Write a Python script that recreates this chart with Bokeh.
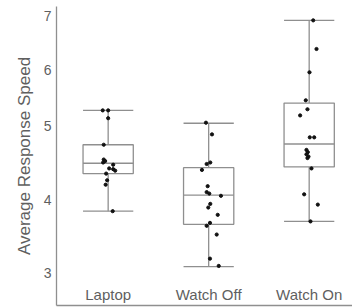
import numpy as np
from bokeh.plotting import figure
from bokeh.models import Range1d, FixedTicker
from bokeh.embed import file_html
from bokeh.resources import INLINE

# ---------------- data ----------------
categories = ["Laptop", "Watch Off", "Watch On"]

laptop_speed = [5.27, 5.27, 5.13, 4.74, 4.54, 4.52, 4.50, 4.47, 4.42, 4.41, 4.39, 4.35, 4.26, 4.20, 3.84]
laptop_jitter = [-0.054, 0.0, 0.0, -0.044, -0.044, -0.03, -0.05, 0.05, 0.01, 0.05, 0.07, -0.02, -0.01, -0.025, 0.045]

watch_off_speed = [5.05, 4.88, 4.50, 4.48, 4.40, 4.18, 4.10, 4.08, 4.05, 3.94, 3.89, 3.79, 3.68, 3.64, 3.52, 3.19, 3.09]
watch_off_jitter = [-0.027, 0.033, 0.016, -0.02, -0.067, -0.01, -0.02, 0.006, 0.122, 0.016, -0.004, 0.09, 0.013, -0.02, 0.08, 0.013, 0.10]

watch_on_speed = [6.91, 6.38, 5.95, 5.45, 5.29, 5.18, 4.84, 4.84, 4.67, 4.64, 4.61, 4.58, 4.56, 4.42, 4.07, 3.93, 3.70]
watch_on_jitter = [0.04, 0.073, 0.003, -0.034, -0.017, -0.09, 0.006, 0.05, -0.027, -0.014, -0.027, -0.007, -0.017, 0.023, -0.05, 0.086, 0.013]

box_low = [3.84, 3.08, 3.70]
box_q1 = [4.35, 3.66, 4.44]
box_median = [4.49, 4.06, 4.75]
box_q3 = [4.74, 4.43, 5.40]
box_high = [5.27, 5.04, 6.91]

y_tick_values = [3, 4, 5, 6, 7]

# The reference's value axis is not evenly spaced: display units of each tick
axis_tick_units = [0, 73, 147, 203, 257]


def warp(v):
    return np.interp(np.asarray(v, dtype=float), y_tick_values, axis_tick_units)


GRAY = "#8f8f8f"
TEXT = "#5f5f5f"
FONT = "Liberation Sans"
HALF = 0.25

p = figure(width=352, height=307, output_backend="svg", toolbar_location=None,
           x_range=Range1d(-0.514, 2.431), y_range=Range1d(-33, 266),
           min_border_left=56, min_border_right=0, min_border_top=6, min_border_bottom=2)
p.outline_line_color = None
p.grid.visible = False
p.background_fill_color = "white"
p.border_fill_color = "white"

xs = np.arange(len(categories))

# boxes
p.quad(left=xs - HALF, right=xs + HALF, bottom=warp(box_q1), top=warp(box_q3),
       fill_alpha=0, line_color=GRAY, line_width=1.3)
# medians
p.segment(x0=xs - HALF, x1=xs + HALF, y0=warp(box_median), y1=warp(box_median),
          line_color=GRAY, line_width=1.3)
# whiskers
p.segment(x0=xs, x1=xs, y0=warp(box_q3), y1=warp(box_high), line_color=GRAY, line_width=1.3)
p.segment(x0=xs, x1=xs, y0=warp(box_q1), y1=warp(box_low), line_color=GRAY, line_width=1.3)
# caps
p.segment(x0=xs - HALF, x1=xs + HALF, y0=warp(box_high), y1=warp(box_high), line_color=GRAY, line_width=1.3)
p.segment(x0=xs - HALF, x1=xs + HALF, y0=warp(box_low), y1=warp(box_low), line_color=GRAY, line_width=1.3)

# points
for i, (sp, jt) in enumerate([(laptop_speed, laptop_jitter),
                              (watch_off_speed, watch_off_jitter),
                              (watch_on_speed, watch_on_jitter)]):
    p.scatter(x=i + np.asarray(jt), y=warp(sp), size=3.2, color="#111111")

# y axis
p.yaxis.ticker = FixedTicker(ticks=list(warp(y_tick_values)))
p.yaxis.major_label_overrides = {float(u): str(v) for u, v in zip(warp(y_tick_values), y_tick_values)}
p.yaxis.axis_label = "Average Response Speed"
p.yaxis.axis_label_text_font = FONT
p.yaxis.axis_label_text_font_style = "normal"
p.yaxis.axis_label_text_font_size = "17px"
p.yaxis.axis_label_text_color = TEXT
p.yaxis.axis_label_standoff = 7
p.yaxis.major_label_text_font = FONT
p.yaxis.major_label_text_font_size = "14px"
p.yaxis.major_label_text_color = TEXT
p.yaxis.major_label_standoff = 5
p.yaxis.major_tick_out = 0
p.yaxis.major_tick_in = 0
p.yaxis.minor_tick_out = 0
p.yaxis.minor_tick_in = 0
p.yaxis.axis_line_color = GRAY
p.yaxis.axis_line_width = 1.3

# x axis
p.xaxis.ticker = FixedTicker(ticks=list(xs))
p.xaxis.major_label_overrides = {int(i): c for i, c in enumerate(categories)}
p.xaxis.major_label_text_font = FONT
p.xaxis.major_label_text_font_size = "15px"
p.xaxis.major_label_text_color = TEXT
p.xaxis.major_label_standoff = -20
p.xaxis.major_tick_out = 0
p.xaxis.major_tick_in = 0
p.xaxis.minor_tick_out = 0
p.xaxis.minor_tick_in = 0
p.xaxis.axis_line_color = GRAY
p.xaxis.axis_line_width = 1.3

open("out.html", "w").write(file_html(p, INLINE))
